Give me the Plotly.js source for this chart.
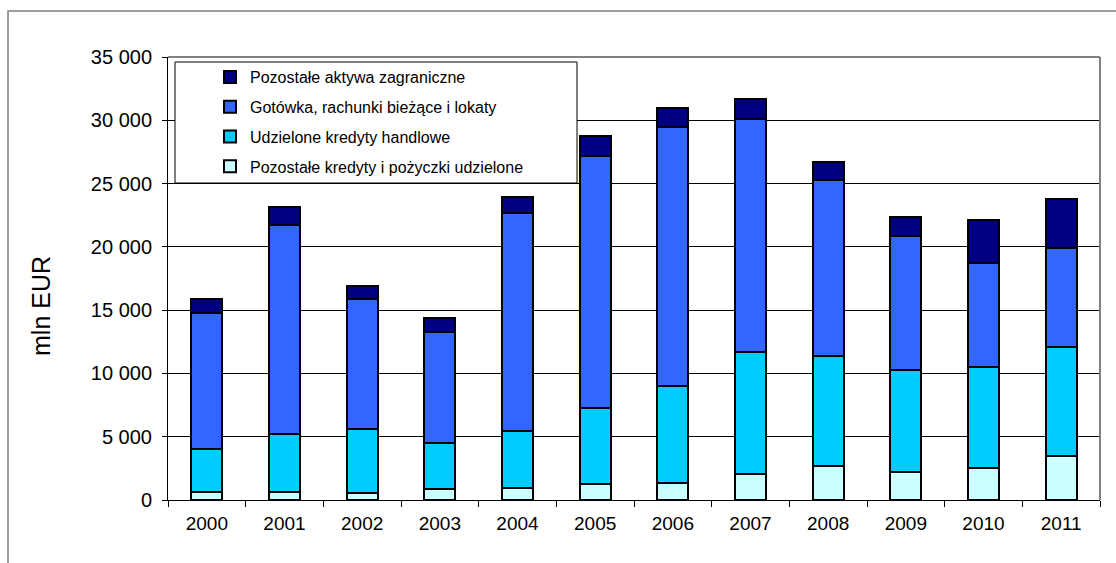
<!DOCTYPE html>
<html>
<head>
<meta charset="utf-8">
<script src="https://cdn.plot.ly/plotly-3.0.1.min.js"></script>
<style>html,body{margin:0;padding:0;background:#fff;}#chart{width:1116px;height:563px;}</style>
</head>
<body>
<div id="chart"></div>
<script>
const years = ["2000","2001","2002","2003","2004","2005","2006","2007","2008","2009","2010","2011"];
const seriesNames = [
  "Pozostałe kredyty i pożyczki udzielone",
  "Udzielone kredyty handlowe",
  "Gotówka, rachunki bieżące i lokaty",
  "Pozostałe aktywa zagraniczne"
];
const pozostaleKredyty = [650, 600, 580, 900, 920, 1240, 1370, 2030, 2690, 2210, 2500, 3480];
const kredytyHandlowe = [3350, 4630, 5050, 3580, 4560, 6000, 7640, 9640, 8660, 8030, 7980, 8580];
const gotowka = [10750, 16490, 10220, 8820, 17220, 19930, 20490, 18430, 13930, 10640, 8240, 7820];
const pozostaleAktywa = [1130, 1400, 1080, 1080, 1260, 1550, 1480, 1580, 1450, 1470, 3400, 3870];
const colors = ["#CCFFFF", "#00CCFF", "#3366FF", "#000080"];
const values = [pozostaleKredyty, kredytyHandlowe, gotowka, pozostaleAktywa];

const traces = values.map((v, i) => ({
  type: "bar",
  x: years,
  y: v,
  name: seriesNames[i],
  legendgroup: "g" + i,
  legendrank: 10 - i,
  marker: {color: colors[i], line: {color: "#000000", width: 2}},
  hoverinfo: "x+y+name"
}));

// pixel helpers for paper coords
const L = 168, R = 1100, T = 57, B = 500;
const px = x => (x - L) / (R - L);
const py = y => (B - y) / (B - T);

const layout = {
  width: 1116, height: 563,
  margin: {l: L, r: 1116 - R, t: T, b: 563 - B, pad: 0},
  paper_bgcolor: "#ffffff",
  plot_bgcolor: "#ffffff",
  barmode: "stack",
  bargap: 0.6,
  separators: ", ",
  font: {family: "Liberation Sans, Arial, sans-serif", color: "#000000"},
  showlegend: true,
  legend: {
    x: px(210), y: py(60), xanchor: "left", yanchor: "top",
    bgcolor: "rgba(0,0,0,0)", borderwidth: 0,
    traceorder: "grouped", tracegroupgap: 6,
    font: {size: 16, family: "Liberation Sans, Arial, sans-serif", color: "#000"}
  },
  xaxis: {
    type: "category",
    showgrid: false,
    showline: true, linecolor: "#000000", linewidth: 1,
    ticks: "outside", ticklen: 6, tickcolor: "#000000", tickson: "boundaries",
    ticklabelstandoff: 6,
    tickfont: {size: 19}, zeroline: false, fixedrange: true
  },
  yaxis: {
    range: [0, 35000], dtick: 5000, tickformat: ",d",
    showgrid: true, gridcolor: "#000000", gridwidth: 1,
    showline: true, linecolor: "#000000", linewidth: 1,
    ticks: "outside", ticklen: 5, tickcolor: "#000000",
    ticklabelstandoff: 6,
    tickfont: {size: 20}, zeroline: false, fixedrange: true
  },
  annotations: [{
    text: "mln EUR", textangle: -90, showarrow: false,
    xref: "paper", yref: "paper", x: px(41), y: py(306),
    xanchor: "center", yanchor: "middle",
    font: {size: 25, family: "Liberation Sans, Arial, sans-serif", color: "#000"}
  }],
  shapes: [
    {type: "rect", xref: "paper", yref: "paper", x0: px(8), x1: px(1130), y0: py(580), y1: py(11),
     line: {color: "#808080", width: 1.5}, fillcolor: "rgba(0,0,0,0)", layer: "below"},
    {type: "line", xref: "paper", yref: "paper", x0: 0, x1: 1, y0: 1, y1: 1, line: {color: "#808080", width: 2}, layer: "above"},
    {type: "line", xref: "paper", yref: "paper", x0: 1, x1: 1, y0: 0, y1: 1, line: {color: "#808080", width: 2}, layer: "above"},
    {type: "rect", xref: "paper", yref: "paper", x0: px(175), x1: px(577), y0: py(183), y1: py(62),
     line: {color: "#000000", width: 1}, fillcolor: "#ffffff", layer: "above"}
  ]
};

Plotly.newPlot("chart", traces, layout, {displayModeBar: false, staticPlot: true});
</script>
</body>
</html>
